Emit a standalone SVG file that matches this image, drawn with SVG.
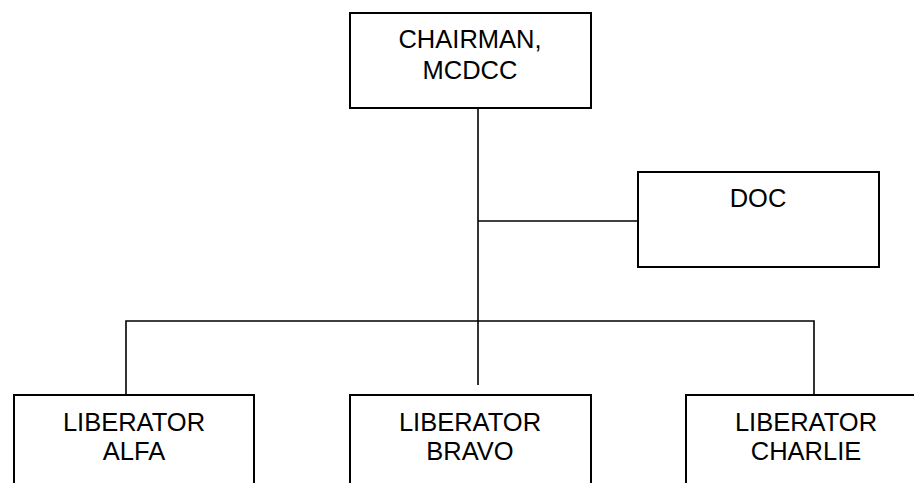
<svg xmlns="http://www.w3.org/2000/svg" width="914" height="483" viewBox="0 0 914 483">
<style>
.box{fill:#fff;stroke:#000;stroke-width:2}
.ln{fill:none;stroke:#000;stroke-width:1.6}
text{font-family:"Liberation Sans",Arial,sans-serif;font-size:25.5px;fill:#000;text-anchor:middle}
</style>
<rect width="914" height="483" fill="#fff"/>
<g id="connectors">
<path class="ln" d="M478,108 V385"/>
<path class="ln" d="M478,221 H638"/>
<path class="ln" d="M126,395 V321 H814 V395"/>
</g>
<g id="chairman">
<rect class="box" x="350" y="13" width="241" height="95"/>
<text x="470" y="48">CHAIRMAN,</text>
<text x="470" y="79">MCDCC</text>
</g>
<g id="doc">
<rect class="box" x="638" y="172" width="241" height="95"/>
<text x="758" y="207">DOC</text>
</g>
<g id="alfa">
<rect class="box" x="14" y="395" width="240" height="100"/>
<text x="134" y="431">LIBERATOR</text>
<text x="134" y="460">ALFA</text>
</g>
<g id="bravo">
<rect class="box" x="350" y="395" width="241" height="100"/>
<text x="470" y="431">LIBERATOR</text>
<text x="470" y="460">BRAVO</text>
</g>
<g id="charlie">
<rect class="box" x="686" y="395" width="241" height="100"/>
<text x="806" y="431">LIBERATOR</text>
<text x="806" y="460">CHARLIE</text>
</g>
</svg>
